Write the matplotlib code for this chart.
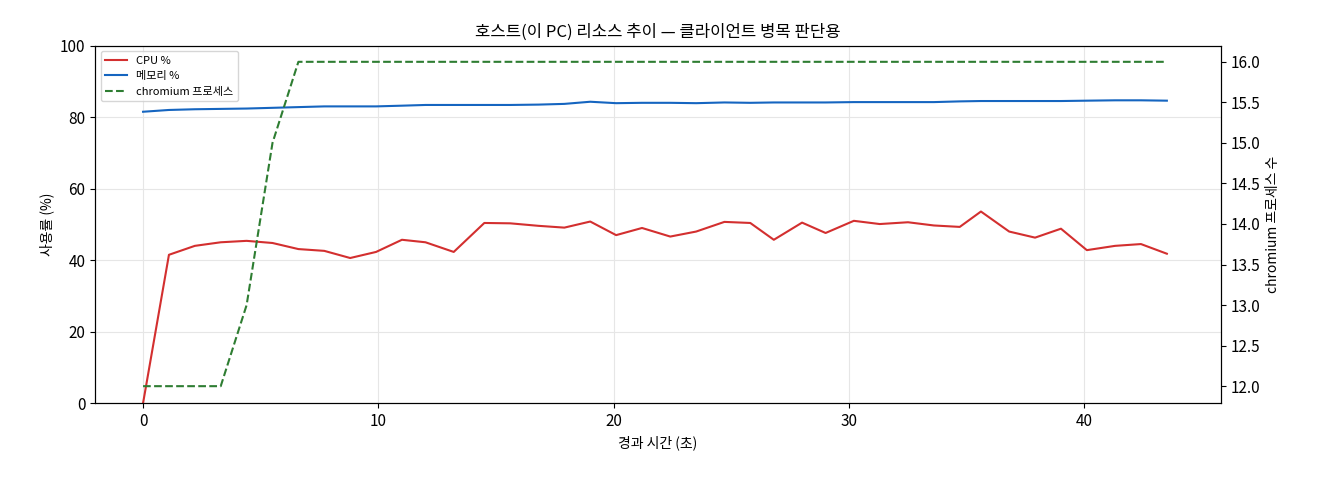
import matplotlib
matplotlib.use("Agg")
import matplotlib.pyplot as plt

plt.rcParams['font.family'] = ['Noto Sans CJK KR', 'DejaVu Sans']

t = [0.0, 1.1, 2.2, 3.3, 4.4, 5.5, 6.6, 7.7, 8.8, 9.9, 11.0, 12.0, 13.2, 14.5, 15.6, 16.8, 17.9, 19.0, 20.1, 21.2,
     22.4, 23.5, 24.7, 25.8, 26.8, 28.0, 29.0, 30.2, 31.3, 32.5, 33.6, 34.7, 35.6, 36.8, 37.9, 39.0, 40.1, 41.3, 42.4, 43.5]
cpu = [0, 41.5, 44, 45, 45.4, 44.8, 43.1, 42.6, 40.6, 42.3, 45.7, 45, 42.3, 50.4, 50.3, 49.6, 49.1, 50.8, 47, 49,
       46.6, 48, 50.7, 50.4, 45.7, 50.5, 47.6, 51, 50.1, 50.6, 49.7, 49.3, 53.6, 48, 46.3, 48.8, 42.8, 44, 44.5, 41.8]
mem = [81.5, 82.0, 82.2, 82.3, 82.4, 82.6, 82.8, 83.0, 83.0, 83.0, 83.2, 83.4, 83.4, 83.4, 83.4, 83.5, 83.7, 84.3, 83.9, 84.0,
       84.0, 83.9, 84.1, 84.0, 84.1, 84.1, 84.1, 84.2, 84.2, 84.2, 84.2, 84.4, 84.5, 84.5, 84.5, 84.5, 84.6, 84.7, 84.7, 84.6]
proc = [12, 12, 12, 12, 13, 15, 16, 16, 16, 16, 16, 16, 16, 16, 16, 16, 16, 16, 16, 16,
        16, 16, 16, 16, 16, 16, 16, 16, 16, 16, 16, 16, 16, 16, 16, 16, 16, 16, 16, 16]

fig, ax = plt.subplots(figsize=(13.2, 4.8), dpi=100)
fig.subplots_adjust(left=0.072, right=0.925, top=0.905, bottom=0.16)
l1, = ax.plot(t, cpu, color='#d32f2f', lw=1.5, label='CPU %')
l2, = ax.plot(t, mem, color='#1565c0', lw=1.5, label='메모리 %')
ax.set_ylim(0, 100)
ax.set_xlim(-2.04, 45.8)
ax.grid(True, color='#e6e6e6', lw=0.8)
ax.tick_params(labelsize=11)
ax.set_xlabel('경과 시간 (초)')
ax.set_ylabel('사용률 (%)')
ax.set_title('호스트(이 PC) 리소스 추이 — 클라이언트 병목 판단용', fontsize=12)
ax2 = ax.twinx()
l3, = ax2.plot(t, proc, color='#2e7d32', lw=1.5, ls='--', label='chromium 프로세스')
ax2.set_ylim(11.79, 16.2)
ax2.tick_params(labelsize=11)
ax2.set_ylabel('chromium 프로세스 수')
ax.legend(handles=[l1, l2, l3], loc='upper left', fontsize=8)
fig.savefig('out.png')
